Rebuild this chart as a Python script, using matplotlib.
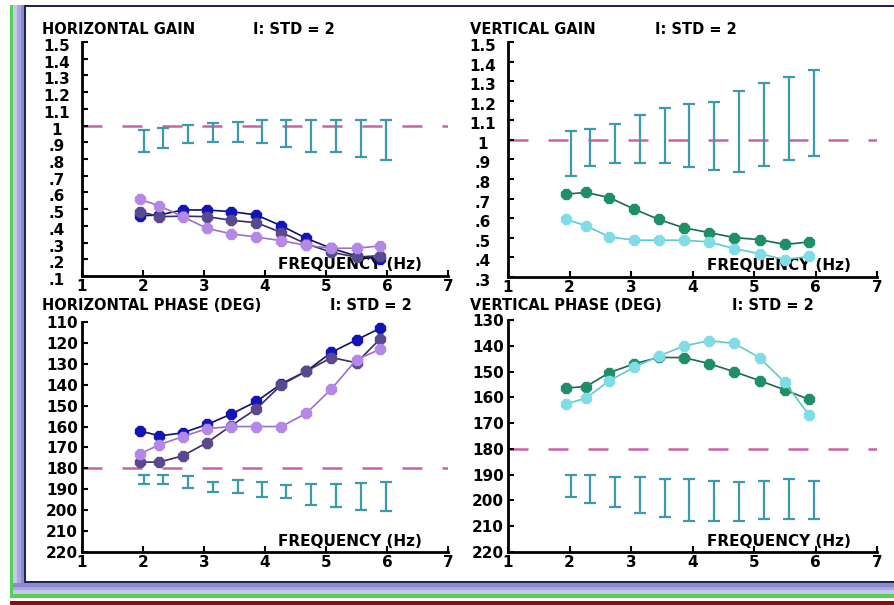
import matplotlib
matplotlib.use("Agg")
import matplotlib.pyplot as plt
from matplotlib.patches import Rectangle
from matplotlib.ticker import FuncFormatter
from matplotlib.transforms import ScaledTranslation

# frequencies of the data points and of the std bars (Hz)
freq = [1.95, 2.27, 2.65, 3.05, 3.45, 3.86, 4.27, 4.68, 5.09, 5.5, 5.89]
std_freq = [2.02, 2.33, 2.74, 3.14, 3.55, 3.95, 4.35, 4.76, 5.17, 5.57, 5.98]

# horizontal gain
hg_blue = [0.46, 0.465, 0.495, 0.495, 0.485, 0.465, 0.40, 0.325, 0.265, 0.22, 0.20]
hg_slate = [0.485, 0.455, 0.458, 0.455, 0.433, 0.419, 0.36, 0.292, 0.242, 0.213, 0.222]
hg_light = [0.558, 0.52, 0.455, 0.385, 0.352, 0.333, 0.311, 0.283, 0.266, 0.266, 0.28]
hg_std_hi = [0.973, 0.986, 1.002, 1.016, 1.022, 1.036, 1.036, 1.036, 1.036, 1.036, 1.036]
hg_std_lo = [0.843, 0.867, 0.893, 0.903, 0.903, 0.893, 0.873, 0.843, 0.843, 0.809, 0.797]

# vertical gain
vg_green = [0.723, 0.732, 0.705, 0.647, 0.594, 0.551, 0.527, 0.501, 0.491, 0.466, 0.479]
vg_cyan = [0.594, 0.561, 0.505, 0.488, 0.488, 0.488, 0.479, 0.445, 0.419, 0.389, 0.405]
vg_std_hi = [1.043, 1.055, 1.082, 1.125, 1.165, 1.184, 1.196, 1.251, 1.290, 1.319, 1.358]
vg_std_lo = [0.817, 0.868, 0.880, 0.880, 0.880, 0.863, 0.846, 0.838, 0.868, 0.898, 0.920]

# horizontal phase (deg)
hp_blue = [162, 164.5, 163, 159, 154, 148, 139.5, 133.5, 124.5, 118.5, 113]
hp_slate = [177, 177, 174, 167.7, 159.5, 151.5, 140, 133.5, 127, 129.5, 118]
hp_light = [173, 168.7, 164.8, 161, 160, 160, 160, 153.6, 142, 128, 123]
hp_std_hi = [183.4, 183.4, 183.6, 186.5, 185.7, 186.5, 187.8, 187.3, 187.3, 186.8, 186.5]
hp_std_lo = [187.3, 187.7, 189.3, 191.2, 191.9, 193.5, 194.3, 197.3, 198.6, 199.7, 200.5]

# vertical phase (deg)
vp_green = [156.4, 155.8, 150.4, 147, 144.5, 144.6, 146.9, 150.1, 153.5, 157.1, 160.8]
vp_cyan = [162.5, 160.3, 153.5, 148.4, 144, 140.1, 138, 139.1, 144.6, 154.2, 166.7]
vp_std_hi = [190, 190, 190.9, 190.9, 191.6, 191.6, 192.3, 192.9, 192.3, 191.6, 192.3]
vp_std_lo = [198.5, 200.8, 202.5, 204.7, 206.3, 207.9, 207.9, 207.9, 207.2, 207.2, 207.2]

x_ticks = [1, 2, 3, 4, 5, 6, 7]
gain_ticks_h = [0.1, 0.2, 0.3, 0.4, 0.5, 0.6, 0.7, 0.8, 0.9, 1.0, 1.1, 1.2, 1.3, 1.4, 1.5]
gain_ticks_v = [0.3, 0.4, 0.5, 0.6, 0.7, 0.8, 0.9, 1.0, 1.1, 1.2, 1.3, 1.4, 1.5]
phase_ticks_h = [110, 120, 130, 140, 150, 160, 170, 180, 190, 200, 210, 220]
phase_ticks_v = [130, 140, 150, 160, 170, 180, 190, 200, 210, 220]

BLUE = "#1414b8"
SLATE = "#584a8c"
LIGHT = "#b388e6"
GREEN = "#1f8f68"
CYAN = "#80dde6"
STD = "#3c9aab"
DASH = "#c862a6"

W, H = 894, 605
plt.rcParams["font.family"] = "DejaVu Sans"
plt.rcParams["font.weight"] = "bold"
fig = plt.figure(figsize=(W / 100, H / 100), dpi=100)


def px_box(x0, y0, x1, y1):
    # pixel box (top-left origin) -> figure fraction rect
    return [x0 / W, 1 - y1 / H, (x1 - x0) / W, (y1 - y0) / H]


def band(x0, y0, x1, y1, color):
    l, b, w, h = px_box(x0, y0, x1, y1)
    fig.add_artist(Rectangle((l, b), w, h, transform=fig.transFigure,
                             color=color, lw=0, zorder=0))


# window frame
band(25, 5, 894, 7, "#22225a")
band(10, 5, 13, 598, "#55d055")
band(13, 5, 17, 594, "#c8c8ee")
band(17, 5, 21, 594, "#a8a8e0")
band(21, 5, 24, 594, "#8a8ad0")
band(24, 5, 26, 583, "#22225a")
band(13, 583, 894, 587, "#8a8ad0")
band(13, 587, 894, 590, "#a8a8e0")
band(13, 590, 894, 594, "#c8c8ee")
band(24, 581, 894, 583, "#22225a")
band(10, 594, 894, 598, "#55d055")
band(10, 601, 894, 605, "#8c0a10")


def gain_fmt(v, pos):
    s = f"{v:.1f}"
    if s.endswith(".0"):
        s = s[:-2]
    if s.startswith("0"):
        s = s[1:]
    return s


def setup(ax, ylim, yticks, gain=False):
    ax.set_xlim(1, 7)
    ax.set_ylim(*ylim)
    ax.set_xticks(x_ticks)
    ax.set_yticks(yticks)
    for s in ["top", "right"]:
        ax.spines[s].set_visible(False)
    for s in ["left", "bottom"]:
        ax.spines[s].set_linewidth(2)
    ax.tick_params(direction="in", length=4, width=1.5, labelsize=11)
    ax.tick_params(axis="x", pad=2)
    if gain:
        # gain labels are centred well left of the axis and sit a bit low
        ax.yaxis.set_major_formatter(FuncFormatter(gain_fmt))
        ax.tick_params(axis="y", pad=18.5)
        shift = ScaledTranslation(0, -0.03, fig.dpi_scale_trans)
        for lab in ax.get_yticklabels():
            lab.set_horizontalalignment("center")
            lab.set_transform(lab.get_transform() + shift)
    else:
        ax.tick_params(axis="y", pad=3)
    for lab in ax.get_xticklabels() + ax.get_yticklabels():
        lab.set_fontweight("bold")
    ax.set_facecolor("none")
    ax.text(6.57, 0.015, "FREQUENCY (Hz)", transform=ax.get_xaxis_transform(),
            ha="right", va="bottom", fontsize=11, fontweight="bold")


def series(ax, y, color, lcolor=None):
    ax.plot(freq, y, color=lcolor or color, lw=1.2, marker="8", ms=8,
            mfc=color, mec=color, zorder=3)


def std_bars(ax, lo, hi):
    mid = [(a + b) / 2 for a, b in zip(lo, hi)]
    half = [abs(b - a) / 2 for a, b in zip(lo, hi)]
    ax.errorbar(std_freq, mid, yerr=half, fmt="none", ecolor=STD,
                elinewidth=1.6, capsize=4, capthick=1.6, zorder=2)


def ref_line(ax, y):
    ax.axhline(y, color=DASH, lw=1.8, ls=(0, (8, 8)), zorder=1)


# horizontal gain
ax1 = fig.add_axes(px_box(82, 42, 448, 276))
setup(ax1, (0.1, 1.5), gain_ticks_h, gain=True)
ref_line(ax1, 1.0)
std_bars(ax1, hg_std_lo, hg_std_hi)
series(ax1, hg_blue, BLUE, "#10106a")
series(ax1, hg_slate, SLATE, "#3a2e60")
series(ax1, hg_light, LIGHT, "#9a70c8")

# vertical gain
ax2 = fig.add_axes(px_box(508, 42, 877, 277))
setup(ax2, (0.3, 1.5), gain_ticks_v, gain=True)
ref_line(ax2, 1.0)
std_bars(ax2, vg_std_lo, vg_std_hi)
series(ax2, vg_green, GREEN, "#1a6a50")
series(ax2, vg_cyan, CYAN, "#60c8d0")

# horizontal phase
ax3 = fig.add_axes(px_box(82, 322, 448, 552))
setup(ax3, (220, 110), phase_ticks_h)
ref_line(ax3, 180)
std_bars(ax3, hp_std_lo, hp_std_hi)
series(ax3, hp_blue, BLUE, "#10106a")
series(ax3, hp_slate, SLATE, "#3a2e60")
series(ax3, hp_light, LIGHT, "#9a70c8")

# vertical phase
ax4 = fig.add_axes(px_box(508, 320, 877, 552))
setup(ax4, (220, 130), phase_ticks_v)
ref_line(ax4, 180)
std_bars(ax4, vp_std_lo, vp_std_hi)
series(ax4, vp_green, GREEN, "#1a6a50")
series(ax4, vp_cyan, CYAN, "#60c8d0")

# panel titles
titles = [
    (42, 30, "HORIZONTAL GAIN"), (253, 30, "I: STD = 2"),
    (470, 30, "VERTICAL GAIN"), (655, 30, "I: STD = 2"),
    (42, 305, "HORIZONTAL PHASE (DEG)"), (330, 305, "I: STD = 2"),
    (470, 305, "VERTICAL PHASE (DEG)"), (732, 305, "I: STD = 2"),
]
for x, y, t in titles:
    fig.text(x / W, 1 - y / H, t, ha="left", va="center",
             fontsize=10.5, fontweight="bold")

fig.savefig("out.png", dpi=100)
